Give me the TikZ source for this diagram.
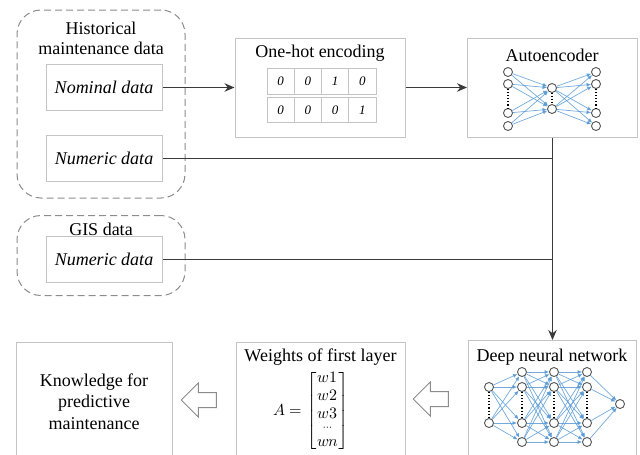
\documentclass[tikz,border=0pt]{standalone}
\usepackage{amsmath}
\usepackage{unicode-math}
\setmainfont{Liberation Serif}
\setmathfont{Latin Modern Math}
\usetikzlibrary{arrows.meta,shapes.arrows}
\definecolor{framegray}{HTML}{C4C4C4}
\definecolor{groupgray}{HTML}{8C8C8C}
\definecolor{linegray}{HTML}{3A3A3A}
\definecolor{neurongray}{HTML}{555555}
\definecolor{synblue}{HTML}{5B9BD5}
\begin{document}
\begin{tikzpicture}[x=1pt,y=-1pt,
  font=\fontsize{18}{20}\selectfont,
  frame/.style={draw=framegray, line width=1pt, inner sep=0pt},
  group/.style={draw=groupgray, dash pattern=on 7pt off 4pt, line width=1pt,
    rounded corners=24pt, inner sep=0pt},
  datbox/.style={frame, minimum width=116pt, minimum height=46pt,
    font=\fontsize{18}{20}\selectfont\itshape},
  cell/.style={draw=framegray, line width=0.8pt, minimum width=27.25pt,
    minimum height=25.5pt, inner sep=0pt, font=\fontsize{13}{13}\selectfont\itshape},
  conn/.style={draw=linegray, line width=1.1pt},
  tip/.style={-{Stealth[length=10pt,width=8.5pt]}},
  neuron/.style={circle, draw=neurongray, fill=white, line width=0.9pt,
    minimum size=9pt, inner sep=0pt},
  syn/.style={draw=synblue, draw opacity=0.85, line width=0.7pt,
    -{Latex[length=4.5pt,width=4pt]}},
  gap/.style={dotted, line width=1.1pt, draw=black},
  hollow/.style={single arrow, draw=groupgray, line width=1pt, fill=white,
    shape border rotate=180, minimum height=35pt, minimum width=33pt,
    inner sep=7pt, single arrow head extend=9.5pt}
]
\path[use as bounding box, clip] (0,0) rectangle (640,455);

% input groups
\node[group, minimum width=168pt, minimum height=188pt] (hist) at (101,104) {};
\node[align=center] (histlbl) at (101,38) {Historical\\maintenance data};
\node[datbox] (nom) at (104,87.5) {Nominal data};
\node[datbox] (num1) at (104,158.5) {Numeric data};

\node[group, minimum width=168pt, minimum height=80pt] (gis) at (101,255.5) {};
\node (gislbl) at (101,229) {GIS data};
\node[datbox] (num2) at (104,259.5) {Numeric data};

% one-hot encoding
\node[frame, minimum width=170pt, minimum height=99pt] (onehot) at (320,87.5) {};
\node (ohtitle) at (320,53) {One-hot encoding};
\foreach \v [count=\i] in {0,0,1,0}
  \node[cell] (ra\i) at ({253.4+27.25*\i},81.5) {\v};
\foreach \v [count=\i] in {0,0,0,1}
  \node[cell] (rb\i) at ({253.4+27.25*\i},110) {\v};

% autoencoder
\node[frame, minimum width=170pt, minimum height=99pt] (auto) at (552.5,87.5) {};
\node (autotitle) at (552,55) {Autoencoder};
\foreach \y [count=\i] in {72,84,113,126} {
  \node[neuron] (ea\i) at (508,\y) {};
  \node[neuron] (eb\i) at (596,\y) {};
}
\node[neuron] (em1) at (552,88) {};
\node[neuron] (em2) at (552,109) {};
\draw[gap] (ea2) -- (ea3);
\draw[gap] (eb2) -- (eb3);
\draw[gap] (em1) -- (em2);
\foreach \i in {1,...,4}
  \foreach \j in {1,2} {
    \draw[syn] (ea\i) -- (em\j);
    \draw[syn] (em\j) -- (eb\i);
  }

% deep neural network
\node[frame, minimum width=168pt, minimum height=130pt, anchor=north] (dnn) at (552.5,340) {};
\node (dnntitle) at (552,357) {Deep neural network};
\node[neuron] (d1a) at (489,387) {};
\node[neuron] (d1b) at (489,423) {};
\foreach \c/\x in {2/522,3/554,4/587}
  \foreach \y [count=\i] in {372,387,423,442}
    \node[neuron] (d\c n\i) at (\x,\y) {};
\node[neuron] (dout) at (620,404) {};
\draw[gap] (d1a) -- (d1b);
\foreach \c in {2,3,4} \draw[gap] (d\c n2) -- (d\c n3);
\foreach \s in {d1a,d1b}
  \foreach \j in {1,...,4} \draw[syn] (\s) -- (d2n\j);
\foreach \c/\n in {2/3,3/4}
  \foreach \i in {1,...,4}
    \foreach \j in {1,...,4} \draw[syn] (d\c n\i) -- (d\n n\j);
\foreach \i in {1,...,4} \draw[syn] (d4n\i) -- (dout);

% weights of first layer
\node[frame, minimum width=169pt, minimum height=130pt, anchor=north] (wts) at (320.5,342) {};
\node (wtitle) at (320.5,357) {Weights of first layer};
\node[font=\fontsize{16}{18}\selectfont] (wmat) at (311,411)
  {\(A=\begin{bmatrix} w1\\ w2\\ w3\\[-6pt] \scriptstyle\cdots\\[-2pt] wn\end{bmatrix}\)};

% knowledge
\node[frame, minimum width=156pt, minimum height=130pt, anchor=north] (know) at (94,342) {};
\node[align=center, font=\fontsize{18}{21.5}\selectfont] (knowtxt) at (94,401.5)
  {Knowledge for\\predictive\\maintenance};

% hollow arrows between the bottom boxes
\node[hollow] (arr1) at (202.5,400) {};
\node[hollow] (arr2) at (434.5,399) {};

% connectors
\draw[conn,tip] (nom.east) -- (onehot.west);
\draw[conn,tip] (onehot.east) -- (auto.west);
\draw[conn] (num1.east) -- (num1.east -| auto.south);
\draw[conn] (num2.east) -- (num2.east -| auto.south);
\draw[conn,tip] (auto.south) -- (auto.south |- dnn.north);
\end{tikzpicture}
\end{document}
